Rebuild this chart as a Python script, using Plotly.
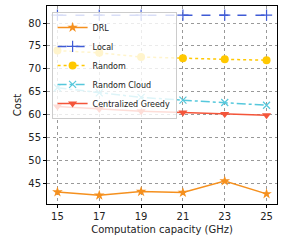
import plotly.graph_objects as go

x_vals = [15, 17, 19, 21, 23, 25]
drl = [43.2, 42.5, 43.3, 43.1, 45.6, 42.8]
local = [81.7, 81.7, 81.7, 81.7, 81.7, 81.7]
random_ = [74.0, 73.5, 72.6, 72.3, 72.1, 71.9]
random_cloud = [65.9, 64.8, 63.8, 63.2, 62.7, 62.1]
greedy = [61.8, 61.3, 60.8, 60.5, 60.2, 59.9]
y_ticks = [45, 50, 55, 60, 65, 70, 75, 80]

fig = go.Figure()
fig.add_trace(go.Scatter(x=x_vals, y=drl, name="DRL", mode="lines+markers",
    line=dict(color="#f5901e", width=1.5, dash="solid"),
    marker=dict(symbol="star", size=8, color="#f5901e")))
fig.add_trace(go.Scatter(x=x_vals, y=local, name="Local", mode="lines+markers",
    line=dict(color="#3f5bd6", width=1.5, dash="dash"),
    marker=dict(symbol="cross-thin-open", size=8, line=dict(color="#3f5bd6", width=1.2))))
fig.add_trace(go.Scatter(x=x_vals, y=random_, name="Random", mode="lines+markers",
    line=dict(color="#ffc800", width=1.5, dash="dot"),
    marker=dict(symbol="circle", size=8, color="#ffc800")))
fig.add_trace(go.Scatter(x=x_vals, y=random_cloud, name="Random Cloud", mode="lines+markers",
    line=dict(color="#56c8dc", width=1.5, dash="dashdot"),
    marker=dict(symbol="x-thin-open", size=7, line=dict(color="#56c8dc", width=1.2))))
fig.add_trace(go.Scatter(x=x_vals, y=greedy, name="Centralized Greedy", mode="lines+markers",
    line=dict(color="#f4553a", width=1.5, dash="solid"),
    marker=dict(symbol="triangle-down", size=8, color="#f4553a")))

axis_common = dict(
    showgrid=True, gridcolor="#999999", griddash="dot", gridwidth=0.8,
    showline=True, linecolor="black", linewidth=1, mirror=True,
    ticks="outside", ticklen=3, tickcolor="black",
    tickfont=dict(family="DejaVu Sans", size=10, color="#222"),
    zeroline=False,
)
fig.update_xaxes(range=[14.5, 25.5], tickvals=x_vals,
    title=dict(text="Computation capacity (GHz)", font=dict(family="DejaVu Sans", size=10, color="#222"), standoff=4),
    **axis_common)
fig.update_yaxes(range=[40.6, 83.7], tickvals=y_ticks,
    title=dict(text="Cost", font=dict(family="DejaVu Sans", size=10, color="#222"), standoff=4),
    **axis_common)

fig.update_layout(
    width=281, height=243,
    margin=dict(l=47, r=4, t=6, b=39),
    plot_bgcolor="white", paper_bgcolor="white",
    font=dict(family="DejaVu Sans", size=8, color="#222"),
    legend=dict(x=0.02, y=0.97, xanchor="left", yanchor="top",
        bgcolor="rgba(255,255,255,0.8)", bordercolor="#cccccc", borderwidth=1,
        font=dict(family="DejaVu Sans", size=8), itemwidth=30,
        tracegroupgap=0),
    showlegend=True,
)

fig.write_html("out.html", config={"displayModeBar": False},
    post_script="document.body.style.margin='0';document.body.style.overflow='hidden';")
